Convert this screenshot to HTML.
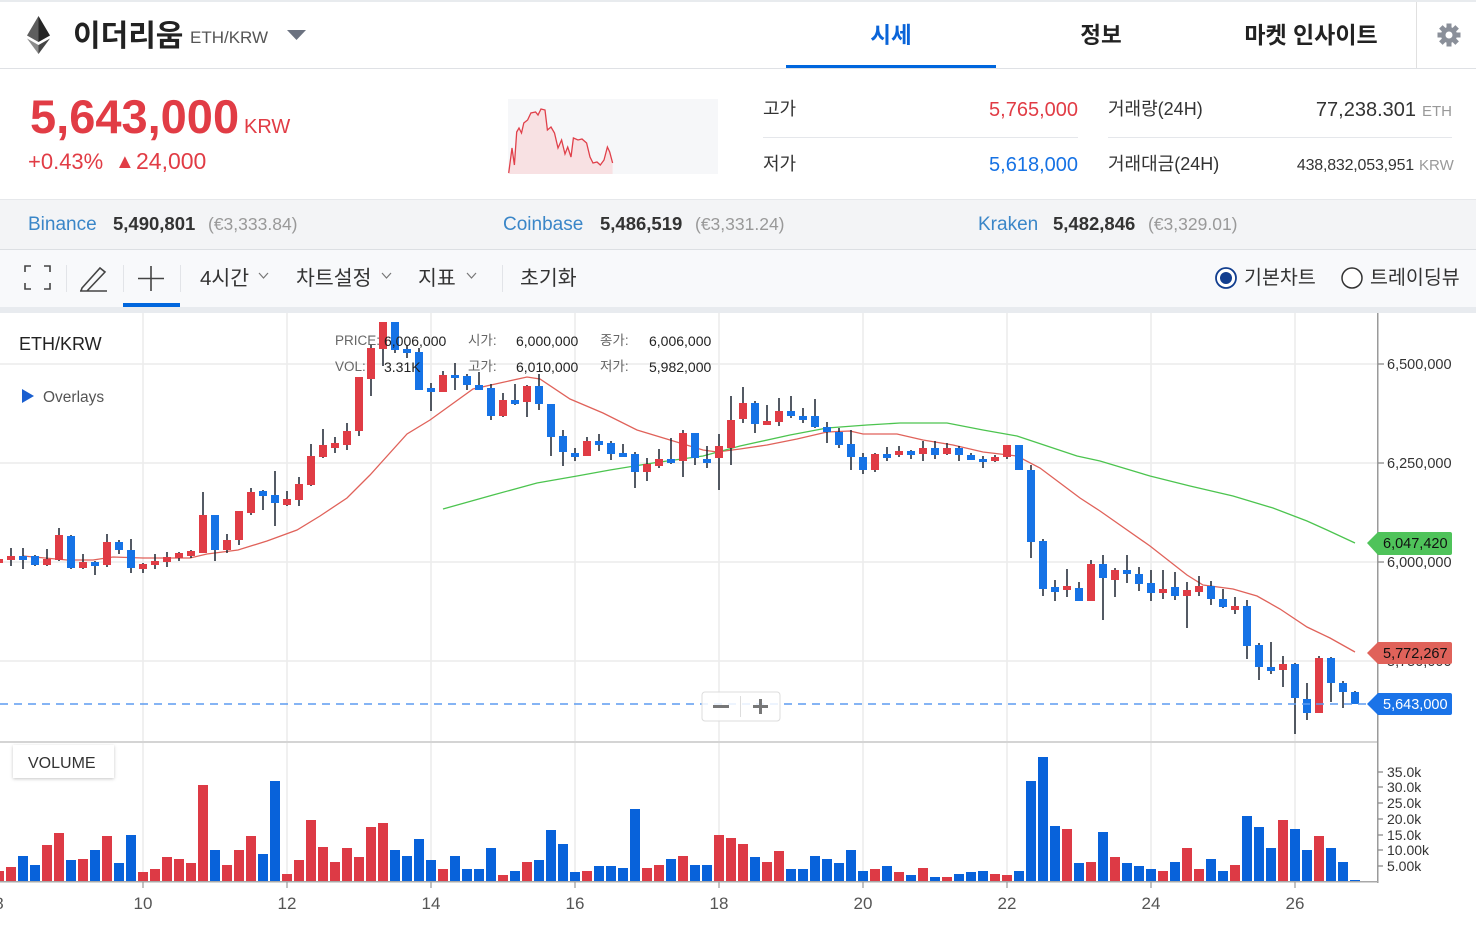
<!DOCTYPE html>
<html><head><meta charset="utf-8"><style>
html,body{margin:0;padding:0;background:#fff;}
#w{position:relative;width:1476px;height:926px;overflow:hidden;}
svg{position:absolute;left:0;top:0;}
text{font-family:"Liberation Sans","Noto Sans CJK KR",sans-serif;}
</style></head><body><div id="w">
<svg width="1476" height="926" viewBox="0 0 1476 926" xmlns="http://www.w3.org/2000/svg">
<defs>
<filter id="sh" x="-20%" y="-30%" width="140%" height="170%"><feDropShadow dx="0" dy="1" stdDeviation="1.5" flood-color="#000" flood-opacity="0.22"/></filter>
<clipPath id="cp"><rect x="0" y="313" width="1378" height="429"/></clipPath>
<clipPath id="cv"><rect x="0" y="742" width="1378" height="140"/></clipPath>
</defs>
<!-- header -->
<rect x="0" y="0" width="1476" height="2" fill="#e8ebee"/>
<polygon points="38.5,16 27,35.5 38.5,42" fill="#5e5e5e"/>
<polygon points="38.5,16 50,35.5 38.5,42" fill="#262626"/>
<polygon points="27,38.5 38.5,54 38.5,45" fill="#8c8c8c"/>
<polygon points="50,38.5 38.5,54 38.5,45" fill="#454545"/>
<text x="73" y="46" font-size="30" font-weight="bold" fill="#222">이더리움</text>
<text x="190" y="43" font-size="17" fill="#555">ETH/KRW</text>
<polygon points="287,30 306,30 296.5,40" fill="#6b7280"/>
<text x="891" y="43" font-size="22.5" font-weight="bold" fill="#0a64d8" text-anchor="middle">시세</text>
<text x="1101" y="43" font-size="22.5" font-weight="bold" fill="#222" text-anchor="middle">정보</text>
<text x="1311" y="43" font-size="23" font-weight="bold" fill="#222" text-anchor="middle">마켓 인사이트</text>
<rect x="786" y="65" width="210" height="4" fill="#0066dd"/>
<rect x="1416" y="2" width="1" height="66" fill="#e0e0e0"/>
<g transform="translate(1449,35)" fill="#8a8f99">
<circle r="8"/>
<rect x="-2.5" y="-11.5" width="5" height="23"/>
<rect x="-2.5" y="-11.5" width="5" height="23" transform="rotate(45)"/>
<rect x="-2.5" y="-11.5" width="5" height="23" transform="rotate(90)"/>
<rect x="-2.5" y="-11.5" width="5" height="23" transform="rotate(135)"/>
<circle r="3.5" fill="#fff"/>
</g>
<rect x="0" y="68" width="1476" height="1" fill="#dfe1e5"/>
<!-- price -->
<text x="30" y="133" font-size="47" font-weight="bold" fill="#e13c45">5,643,000</text>
<text x="244" y="133" font-size="20" fill="#e13c45">KRW</text>
<text x="28" y="169" font-size="22" fill="#e13c45">+0.43%</text>
<text x="115" y="168" font-size="20" fill="#e13c45">▲</text>
<text x="136" y="169" font-size="23" fill="#e13c45">24,000</text>
<rect x="508" y="99" width="210" height="75" fill="#f6f7f9"/>
<path d="M508.7,174 L508.7,173 512,148 514.4,165 516.7,132 519,128 521.5,133 523.8,123 527.6,120 530.9,113 535.6,112 538,115 541,109 545,110 547.4,130 551,127 554.5,133 558,148 561.6,140 565,154 567.7,147 571,157 573.4,138 578,140 582,139 586.6,143 590,157 593,163 597,162 600.3,165 604,160 607.4,147 609.7,152 612.6,163 L612.6,174 Z" fill="#f8e1e3"/>
<polyline points="508.7,173 512,148 514.4,165 516.7,132 519,128 521.5,133 523.8,123 527.6,120 530.9,113 535.6,112 538,115 541,109 545,110 547.4,130 551,127 554.5,133 558,148 561.6,140 565,154 567.7,147 571,157 573.4,138 578,140 582,139 586.6,143 590,157 593,163 597,162 600.3,165 604,160 607.4,147 609.7,152 612.6,163" fill="none" stroke="#e0404a" stroke-width="1.3"/>
<text x="763" y="115" font-size="18" fill="#333">고가</text>
<text x="1078" y="116" font-size="20" fill="#e13c45" text-anchor="end">5,765,000</text>
<rect x="763" y="137" width="315" height="1" fill="#e5e7eb"/>
<text x="763" y="170" font-size="18" fill="#333">저가</text>
<text x="1078" y="171" font-size="20" fill="#1672e4" text-anchor="end">5,618,000</text>
<text x="1108" y="115" font-size="18" fill="#333">거래량(24H)</text>
<text x="1416" y="116" font-size="20" fill="#333" text-anchor="end">77,238.301</text>
<text x="1422" y="116" font-size="15" fill="#999">ETH</text>
<rect x="1108" y="137" width="344" height="1" fill="#e5e7eb"/>
<text x="1108" y="170" font-size="18" fill="#333">거래대금(24H)</text>
<text x="1414" y="170" font-size="16" fill="#333" text-anchor="end" letter-spacing="-0.2">438,832,053,951</text>
<text x="1419" y="170" font-size="15" fill="#999">KRW</text>
<!-- exchange bar -->
<rect x="0" y="199" width="1476" height="50" fill="#f3f4f6"/>
<rect x="0" y="199" width="1476" height="1" fill="#e6e8eb"/>
<rect x="0" y="249" width="1476" height="1" fill="#dcdfe3"/>
<text x="28" y="230" font-size="19" fill="#3a86c8">Binance</text>
<text x="113" y="230" font-size="18.5" font-weight="bold" fill="#333">5,490,801</text>
<text x="208" y="230" font-size="17.5" fill="#999">(€3,333.84)</text>
<text x="503" y="230" font-size="19" fill="#3a86c8">Coinbase</text>
<text x="600" y="230" font-size="18.5" font-weight="bold" fill="#333">5,486,519</text>
<text x="695" y="230" font-size="17.5" fill="#999">(€3,331.24)</text>
<text x="978" y="230" font-size="19" fill="#3a86c8">Kraken</text>
<text x="1053" y="230" font-size="18.5" font-weight="bold" fill="#333">5,482,846</text>
<text x="1148" y="230" font-size="17.5" fill="#999">(€3,329.01)</text>
<!-- toolbar -->
<rect x="0" y="250" width="1476" height="57" fill="#f8f9fb"/>
<rect x="0" y="307" width="1476" height="6" fill="#e8ebef"/>
<g stroke="#444" stroke-width="1.6" fill="none">
<path d="M25,272V266H31 M44,266H50V272 M25,283V289H31 M44,289H50V283"/>
<path d="M82,288 L100,268 L105,272 L87,291 L81,291 Z M80,291 H107"/>
<path d="M151,266V291 M138,278.5H164"/>
<path d="M259,273 l4.5,5 l4.5,-5 M382,273 l4.5,5 l4.5,-5 M467,273 l4.5,5 l4.5,-5" stroke="#777" stroke-width="1.2"/>
</g>
<g fill="#e2e4e8"><rect x="66" y="265" width="1" height="27"/><rect x="123" y="265" width="1" height="27"/><rect x="180" y="265" width="1" height="27"/><rect x="502" y="265" width="1" height="27"/></g>
<rect x="123" y="303" width="57" height="4" fill="#0066dd"/>
<text x="200" y="285" font-size="20.5" fill="#333">4시간</text>
<text x="296" y="285" font-size="20.5" fill="#333">차트설정</text>
<text x="418" y="285" font-size="20.5" fill="#333">지표</text>
<text x="520" y="285" font-size="20.5" fill="#333">초기화</text>
<circle cx="1226" cy="278" r="10" fill="#fff" stroke="#123e8f" stroke-width="1.8"/>
<circle cx="1226" cy="278" r="6" fill="#123e8f"/>
<text x="1244" y="284" font-size="19.5" fill="#333">기본차트</text>
<circle cx="1352" cy="278" r="10" fill="#fff" stroke="#333" stroke-width="1.5"/>
<text x="1370" y="284" font-size="19.5" fill="#333">트레이딩뷰</text>
<!-- grid -->
<g stroke="#ececec" stroke-width="1.5">
<path d="M143 313V882 M287 313V882 M431 313V882 M575 313V882 M719 313V882 M863 313V882 M1007 313V882 M1151 313V882 M1295 313V882"/>
<path d="M0 364H1378 M0 463H1378 M0 562H1378 M0 661H1378"/>
</g>
<!-- labels -->
<text x="19" y="350" font-size="18" fill="#222">ETH/KRW</text>
<polygon points="22,389 34,396 22,403" fill="#1a5fd0"/>
<text x="43" y="402" font-size="15.5" fill="#555">Overlays</text>
<!-- MA lines -->
<g clip-path="url(#cp)" fill="none" stroke-width="1.3">
<polyline stroke="#e0625a" points="23,556 67,560 93,560 113,557 143,558 190,558 207,554 238,550 267,541 297,530 320,516 347,498 360,485 370,475 407,434 430,420 473,389 527,377 540,379 570,399 603,413 637,430 670,440 703,450 717,452 740,449 767,445 797,439 827,432 850,431 863,434 897,434 923,440 953,445 983,452 1017,456 1040,468 1060,483 1080,498 1100,511 1110,518 1150,546 1187,575 1203,585 1233,589 1257,596 1280,609 1307,627 1330,638 1355,652"/>
<polyline stroke="#4cc44f" points="443,509 493,495 537,483 577,476 610,470 653,463 703,456 740,446 790,435 827,428 867,425 900,423 947,423 983,430 1017,436 1047,446 1077,456 1100,461 1150,476 1190,486 1233,496 1273,508 1307,521 1327,530 1355,543"/>
</g>
<!-- candles -->
<g clip-path="url(#cp)">
<path stroke="#1c2430" stroke-width="1.5" fill="none" d="M-1 557V565M11 548V566M23 548V569M35 555V566M47 549V566M59 528V561M71 535V569M83 554V569M95 561V575M107 534V567M119 540V554M131 539V573M143 563V573M155 554V569M167 552V567M179 552V561M191 550V558M203 492V553M215 515V561M227 534V553M239 511V545M251 488V515M263 490V510M275 471V526M287 491V506M299 477V506M311 444V486M323 429V458M335 437V453M347 423V450M359 377V436M371 345V396M383 322V366M395 322V353M407 345V358M419 348V390M431 383V411M443 371V392M455 363V390M467 374V390M479 372V390M491 384V420M503 393V417M515 384V405M527 385V417M539 374V410M551 404V456M563 430V466M575 448V461M587 437V456M599 434V451M611 441V460M623 444V457M635 452V488M647 458V481M659 449V468M671 438V464M683 430V477M695 433V465M707 446V468M719 434V490M731 396V465M743 387V423M755 401V433M767 405V425M779 398V426M791 396V418M803 408V423M815 399V428M827 422V443M839 428V448M851 430V470M863 453V474M875 453V472M887 447V461M899 446V457M911 450V459M923 441V461M935 441V459M947 443V455M959 446V461M971 453V460M983 456V468M995 455V462M1007 445V459M1019 445V470M1031 465V558M1043 539V596M1055 580V601M1067 569V597M1079 582V601M1091 560V601M1103 555V620M1115 568V597M1127 555V583M1139 567V591M1151 570V601M1163 570V599M1175 572V600M1187 582V628M1199 576V596M1211 581V605M1223 589V608M1235 597V614M1247 600V659M1259 643V680M1271 642V674M1283 656V687M1295 663V734M1307 683V720M1319 656V713M1331 657V702M1343 681V708M1355 691V704"/>
<g fill="#e03c45">
<rect x="-5" y="559" width="8" height="4"/><rect x="7" y="556" width="8" height="4"/><rect x="43" y="559" width="8" height="6"/><rect x="55" y="535" width="8" height="25"/><rect x="79" y="562" width="8" height="6"/><rect x="103" y="542" width="8" height="23"/><rect x="139" y="564" width="8" height="5"/><rect x="151" y="561" width="8" height="4"/><rect x="163" y="557" width="8" height="5"/><rect x="175" y="553" width="8" height="5"/><rect x="187" y="551" width="8" height="5"/><rect x="199" y="515" width="8" height="38"/><rect x="223" y="540" width="8" height="10"/><rect x="235" y="511" width="8" height="29"/><rect x="247" y="492" width="8" height="21"/><rect x="283" y="499" width="8" height="6"/><rect x="295" y="484" width="8" height="16"/><rect x="307" y="456" width="8" height="29"/><rect x="319" y="445" width="8" height="12"/><rect x="331" y="443" width="8" height="5"/><rect x="343" y="431" width="8" height="14"/><rect x="355" y="377" width="8" height="54"/><rect x="367" y="348" width="8" height="31"/><rect x="379" y="322" width="8" height="27"/><rect x="439" y="375" width="8" height="17"/><rect x="499" y="400" width="8" height="16"/><rect x="523" y="386" width="8" height="16"/><rect x="583" y="441" width="8" height="15"/><rect x="643" y="464" width="8" height="8"/><rect x="655" y="459" width="8" height="7"/><rect x="679" y="433" width="8" height="28"/><rect x="715" y="446" width="8" height="12"/><rect x="727" y="420" width="8" height="28"/><rect x="739" y="403" width="8" height="16"/><rect x="763" y="421" width="8" height="4"/><rect x="775" y="411" width="8" height="11"/><rect x="871" y="454" width="8" height="16"/><rect x="895" y="451" width="8" height="4"/><rect x="919" y="448" width="8" height="6"/><rect x="943" y="448" width="8" height="6"/><rect x="991" y="457" width="8" height="4"/><rect x="1003" y="445" width="8" height="12"/><rect x="1063" y="586" width="8" height="4"/><rect x="1087" y="564" width="8" height="37"/><rect x="1111" y="570" width="8" height="10"/><rect x="1159" y="589" width="8" height="4"/><rect x="1183" y="590" width="8" height="6"/><rect x="1195" y="586" width="8" height="6"/><rect x="1231" y="606" width="8" height="4"/><rect x="1279" y="664" width="8" height="6"/><rect x="1315" y="658" width="8" height="55"/>
</g>
<g fill="#1673e6">
<rect x="19" y="556" width="8" height="4"/><rect x="31" y="556" width="8" height="9"/><rect x="67" y="536" width="8" height="32"/><rect x="91" y="562" width="8" height="4"/><rect x="115" y="542" width="8" height="8"/><rect x="127" y="550" width="8" height="18"/><rect x="211" y="515" width="8" height="35"/><rect x="259" y="491" width="8" height="5"/><rect x="271" y="495" width="8" height="8"/><rect x="391" y="322" width="8" height="28"/><rect x="403" y="349" width="8" height="4"/><rect x="415" y="352" width="8" height="38"/><rect x="427" y="388" width="8" height="4"/><rect x="451" y="375" width="8" height="3"/><rect x="463" y="376" width="8" height="9"/><rect x="475" y="385" width="8" height="5"/><rect x="487" y="388" width="8" height="28"/><rect x="511" y="400" width="8" height="4"/><rect x="535" y="386" width="8" height="18"/><rect x="547" y="404" width="8" height="33"/><rect x="559" y="436" width="8" height="16"/><rect x="571" y="453" width="8" height="4"/><rect x="595" y="441" width="8" height="4"/><rect x="607" y="443" width="8" height="11"/><rect x="619" y="453" width="8" height="4"/><rect x="631" y="454" width="8" height="18"/><rect x="667" y="459" width="8" height="4"/><rect x="691" y="433" width="8" height="25"/><rect x="703" y="459" width="8" height="4"/><rect x="751" y="403" width="8" height="21"/><rect x="787" y="411" width="8" height="5"/><rect x="799" y="416" width="8" height="4"/><rect x="811" y="416" width="8" height="11"/><rect x="823" y="427" width="8" height="5"/><rect x="835" y="432" width="8" height="13"/><rect x="847" y="444" width="8" height="13"/><rect x="859" y="457" width="8" height="13"/><rect x="883" y="454" width="8" height="4"/><rect x="907" y="451" width="8" height="4"/><rect x="931" y="448" width="8" height="7"/><rect x="955" y="448" width="8" height="7"/><rect x="967" y="455" width="8" height="5"/><rect x="979" y="459" width="8" height="3"/><rect x="1015" y="445" width="8" height="25"/><rect x="1027" y="470" width="8" height="72"/><rect x="1039" y="541" width="8" height="48"/><rect x="1051" y="587" width="8" height="5"/><rect x="1075" y="588" width="8" height="13"/><rect x="1099" y="564" width="8" height="14"/><rect x="1123" y="570" width="8" height="4"/><rect x="1135" y="574" width="8" height="10"/><rect x="1147" y="583" width="8" height="10"/><rect x="1171" y="587" width="8" height="9"/><rect x="1207" y="586" width="8" height="13"/><rect x="1219" y="599" width="8" height="8"/><rect x="1243" y="606" width="8" height="40"/><rect x="1255" y="645" width="8" height="22"/><rect x="1267" y="667" width="8" height="4"/><rect x="1291" y="664" width="8" height="34"/><rect x="1303" y="699" width="8" height="14"/><rect x="1327" y="658" width="8" height="25"/><rect x="1339" y="683" width="8" height="9"/><rect x="1351" y="692" width="8" height="12"/>
</g>
</g>
<!-- current price dashed line -->
<path d="M0 704H1367" stroke="#5d9cf0" stroke-width="1.5" stroke-dasharray="8 6"/>
<!-- zoom control -->
<rect x="702" y="692" width="78" height="29" rx="3" fill="#fff" fill-opacity="0.85" stroke="#dcdcdc"/>
<rect x="713" y="705" width="16" height="3" fill="#777"/>
<rect x="740" y="696" width="1" height="21" fill="#ddd"/>
<rect x="753" y="705" width="15" height="3" fill="#777"/>
<rect x="759" y="699" width="3" height="15" fill="#777"/>
<!-- tooltip -->
<g font-size="13.5" fill="#666">
<text x="335" y="345">PRICE:</text><text x="335" y="371">VOL:</text>
<text x="468" y="345">시가:</text><text x="468" y="371">고가:</text>
<text x="600" y="345">종가:</text><text x="600" y="371">저가:</text>
</g>
<g font-size="14" fill="#222">
<text x="384" y="346">6,006,000</text><text x="384" y="372">3.31K</text>
<text x="516" y="346">6,000,000</text><text x="516" y="372">6,010,000</text>
<text x="649" y="346">6,006,000</text><text x="649" y="372">5,982,000</text>
</g>
<!-- price pane bottom -->
<rect x="0" y="741" width="1378" height="2" fill="#d4d4d4"/>
<!-- right axis -->
<rect x="1377" y="313" width="1.5" height="570" fill="#9a9a9a"/>
<path d="M1378 364H1384M1378 463H1384M1378 562H1384M1378 661H1384" stroke="#888" stroke-width="1.2"/>
<g font-size="14.5" fill="#333">
<text x="1387" y="369">6,500,000</text>
<text x="1387" y="468">6,250,000</text>
<text x="1387" y="567">6,000,000</text>
<text x="1387" y="666">5,750,000</text>
</g>
<path d="M1367,543 L1378,532 H1450 Q1452,532 1452,534 V553 Q1452,555 1450,555 H1378 Z" fill="#4fc35a"/>
<text x="1383" y="548" font-size="14.5" fill="#111">6,047,420</text>
<path d="M1367,653 L1378,642 H1450 Q1452,642 1452,644 V662 Q1452,664 1450,664 H1378 Z" fill="#e0625a"/>
<text x="1383" y="658" font-size="14.5" fill="#111">5,772,267</text>
<path d="M1367,704 L1378,693 H1450 Q1452,693 1452,695 V713 Q1452,715 1450,715 H1378 Z" fill="#1a73e8"/>
<text x="1383" y="709" font-size="14.5" fill="#fff">5,643,000</text>
<!-- volume -->
<g clip-path="url(#cv)">
<g fill="#dd3a45">
<rect x="-6" y="871" width="10" height="11"/><rect x="6" y="867" width="10" height="15"/><rect x="42" y="845" width="10" height="37"/><rect x="54" y="833" width="10" height="49"/><rect x="78" y="859" width="10" height="23"/><rect x="102" y="836" width="10" height="46"/><rect x="138" y="872" width="10" height="10"/><rect x="150" y="869" width="10" height="13"/><rect x="162" y="857" width="10" height="25"/><rect x="174" y="859" width="10" height="23"/><rect x="186" y="863" width="10" height="19"/><rect x="198" y="785" width="10" height="97"/><rect x="222" y="865" width="10" height="17"/><rect x="234" y="850" width="10" height="32"/><rect x="246" y="836" width="10" height="46"/><rect x="282" y="874" width="10" height="8"/><rect x="294" y="860" width="10" height="22"/><rect x="306" y="820" width="10" height="62"/><rect x="318" y="847" width="10" height="35"/><rect x="330" y="862" width="10" height="20"/><rect x="342" y="848" width="10" height="34"/><rect x="354" y="857" width="10" height="25"/><rect x="366" y="827" width="10" height="55"/><rect x="378" y="823" width="10" height="59"/><rect x="438" y="869" width="10" height="13"/><rect x="498" y="875" width="10" height="7"/><rect x="522" y="862" width="10" height="20"/><rect x="582" y="871" width="10" height="11"/><rect x="642" y="868" width="10" height="14"/><rect x="654" y="865" width="10" height="17"/><rect x="678" y="856" width="10" height="26"/><rect x="714" y="835" width="10" height="47"/><rect x="726" y="838" width="10" height="44"/><rect x="738" y="844" width="10" height="38"/><rect x="762" y="862" width="10" height="20"/><rect x="774" y="851" width="10" height="31"/><rect x="870" y="869" width="10" height="13"/><rect x="894" y="872" width="10" height="10"/><rect x="918" y="868" width="10" height="14"/><rect x="942" y="877" width="10" height="5"/><rect x="990" y="874" width="10" height="8"/><rect x="1002" y="875" width="10" height="7"/><rect x="1062" y="829" width="10" height="53"/><rect x="1086" y="862" width="10" height="20"/><rect x="1110" y="857" width="10" height="25"/><rect x="1158" y="871" width="10" height="11"/><rect x="1182" y="848" width="10" height="34"/><rect x="1194" y="869" width="10" height="13"/><rect x="1230" y="865" width="10" height="17"/><rect x="1278" y="820" width="10" height="62"/><rect x="1314" y="836" width="10" height="46"/>
</g>
<g fill="#0862da">
<rect x="18" y="856" width="10" height="26"/><rect x="30" y="865" width="10" height="17"/><rect x="66" y="860" width="10" height="22"/><rect x="90" y="850" width="10" height="32"/><rect x="114" y="863" width="10" height="19"/><rect x="126" y="835" width="10" height="47"/><rect x="210" y="850" width="10" height="32"/><rect x="258" y="854" width="10" height="28"/><rect x="270" y="781" width="10" height="101"/><rect x="390" y="850" width="10" height="32"/><rect x="402" y="856" width="10" height="26"/><rect x="414" y="839" width="10" height="43"/><rect x="426" y="860" width="10" height="22"/><rect x="450" y="856" width="10" height="26"/><rect x="462" y="869" width="10" height="13"/><rect x="474" y="869" width="10" height="13"/><rect x="486" y="848" width="10" height="34"/><rect x="510" y="871" width="10" height="11"/><rect x="534" y="860" width="10" height="22"/><rect x="546" y="830" width="10" height="52"/><rect x="558" y="844" width="10" height="38"/><rect x="570" y="872" width="10" height="10"/><rect x="594" y="866" width="10" height="16"/><rect x="606" y="866" width="10" height="16"/><rect x="618" y="868" width="10" height="14"/><rect x="630" y="809" width="10" height="73"/><rect x="666" y="859" width="10" height="23"/><rect x="690" y="865" width="10" height="17"/><rect x="702" y="865" width="10" height="17"/><rect x="750" y="857" width="10" height="25"/><rect x="786" y="869" width="10" height="13"/><rect x="798" y="869" width="10" height="13"/><rect x="810" y="856" width="10" height="26"/><rect x="822" y="859" width="10" height="23"/><rect x="834" y="863" width="10" height="19"/><rect x="846" y="850" width="10" height="32"/><rect x="858" y="871" width="10" height="11"/><rect x="882" y="866" width="10" height="16"/><rect x="906" y="875" width="10" height="7"/><rect x="930" y="877" width="10" height="5"/><rect x="954" y="874" width="10" height="8"/><rect x="966" y="872" width="10" height="10"/><rect x="978" y="871" width="10" height="11"/><rect x="1014" y="871" width="10" height="11"/><rect x="1026" y="781" width="10" height="101"/><rect x="1038" y="757" width="10" height="125"/><rect x="1050" y="826" width="10" height="56"/><rect x="1074" y="863" width="10" height="19"/><rect x="1098" y="832" width="10" height="50"/><rect x="1122" y="863" width="10" height="19"/><rect x="1134" y="866" width="10" height="16"/><rect x="1146" y="869" width="10" height="13"/><rect x="1170" y="862" width="10" height="20"/><rect x="1206" y="859" width="10" height="23"/><rect x="1218" y="871" width="10" height="11"/><rect x="1242" y="816" width="10" height="66"/><rect x="1254" y="827" width="10" height="55"/><rect x="1266" y="848" width="10" height="34"/><rect x="1290" y="829" width="10" height="53"/><rect x="1302" y="850" width="10" height="32"/><rect x="1326" y="848" width="10" height="34"/><rect x="1338" y="862" width="10" height="20"/><rect x="1350" y="880" width="10" height="2"/>
</g>
</g>
<rect x="0" y="881" width="1378" height="1.5" fill="#a8a8a8"/>
<path d="M143 882V888M287 882V888M431 882V888M575 882V888M719 882V888M863 882V888M1007 882V888M1151 882V888M1295 882V888" stroke="#999" stroke-width="1.2"/>
<g font-size="17" fill="#555" text-anchor="middle">
<text x="-1" y="909">8</text><text x="143" y="909">10</text><text x="287" y="909">12</text><text x="431" y="909">14</text><text x="575" y="909">16</text><text x="719" y="909">18</text><text x="863" y="909">20</text><text x="1007" y="909">22</text><text x="1151" y="909">24</text><text x="1295" y="909">26</text>
</g>
<path d="M1378 772H1383M1378 787H1383M1378 803H1383M1378 819H1383M1378 835H1383M1378 850H1383M1378 866H1383" stroke="#888" stroke-width="1.2"/>
<g font-size="14" fill="#333">
<text x="1387" y="777">35.0k</text><text x="1387" y="792">30.0k</text><text x="1387" y="808">25.0k</text><text x="1387" y="824">20.0k</text><text x="1387" y="840">15.0k</text><text x="1387" y="855">10.00k</text><text x="1387" y="871">5.00k</text>
</g>
<rect x="13" y="745" width="101" height="33" fill="#fff" filter="url(#sh)"/>
<text x="28" y="768" font-size="16" fill="#333">VOLUME</text>
</svg>
</div></body></html>
